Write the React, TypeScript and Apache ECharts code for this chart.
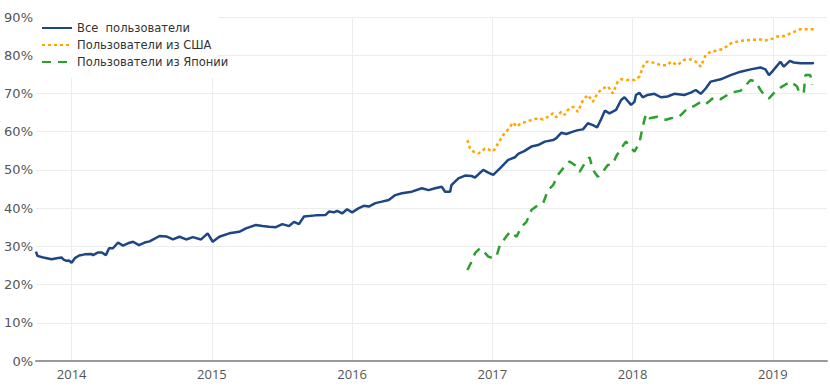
import React, { useEffect, useRef } from "react";
import * as echarts from "echarts";

const seriesNames = ["Все  пользователи", "Пользователи из США", "Пользователи из Японии"];

const allDates = [
  2013.746, 2013.756, 2013.798, 2013.858, 2013.893, 2013.929, 2013.94, 2013.964, 2013.981, 2014.0,
  2014.023, 2014.054, 2014.094, 2014.142, 2014.153, 2014.189, 2014.215, 2014.244, 2014.267, 2014.295,
  2014.331, 2014.366, 2014.402, 2014.438, 2014.48, 2014.521, 2014.556, 2014.592, 2014.627, 2014.675,
  2014.722, 2014.769, 2014.817, 2014.864, 2014.923, 2014.97, 2015.006, 2015.053, 2015.124, 2015.195,
  2015.243, 2015.314, 2015.361, 2015.408, 2015.456, 2015.503, 2015.55, 2015.586, 2015.621, 2015.657,
  2015.74, 2015.811, 2015.835, 2015.87, 2015.893, 2015.929, 2015.964, 2016.0, 2016.048, 2016.083,
  2016.119, 2016.166, 2016.213, 2016.261, 2016.308, 2016.355, 2016.426, 2016.497, 2016.545, 2016.592,
  2016.639, 2016.663, 2016.699, 2016.708, 2016.758, 2016.805, 2016.852, 2016.876, 2016.935, 2016.971,
  2017.006, 2017.054, 2017.113, 2017.161, 2017.184, 2017.227, 2017.278, 2017.326, 2017.374, 2017.433,
  2017.456, 2017.491, 2017.527, 2017.575, 2017.61, 2017.646, 2017.681, 2017.717, 2017.747, 2017.776,
  2017.802, 2017.835, 2017.882, 2017.918, 2017.942, 2017.989, 2018.013, 2018.024, 2018.048, 2018.072,
  2018.107, 2018.155, 2018.202, 2018.249, 2018.297, 2018.368, 2018.415, 2018.45, 2018.486, 2018.521,
  2018.557, 2018.628, 2018.699, 2018.77, 2018.841, 2018.912, 2018.947, 2018.972, 2018.995, 2019.054,
  2019.078, 2019.121, 2019.149, 2019.196, 2019.279, 2019.293,
];
const allValues = [
  28.6, 27.5, 27.1, 26.6, 26.9, 27.1, 26.6, 26.2, 26.3, 25.7,
  26.9, 27.6, 27.9, 28.0, 27.7, 28.4, 28.4, 27.7, 29.5, 29.5,
  31.0, 30.2, 30.8, 31.2, 30.3, 31.0, 31.3, 32.0, 32.7, 32.6,
  31.8, 32.5, 31.8, 32.4, 31.8, 33.4, 31.2, 32.5, 33.4, 33.8,
  34.7, 35.6, 35.3, 35.1, 35.0, 35.8, 35.3, 36.4, 35.8, 37.8,
  38.1, 38.2, 39.1, 38.9, 39.3, 38.6, 39.7, 38.9, 40.0, 40.6,
  40.4, 41.3, 41.7, 42.1, 43.4, 43.9, 44.3, 45.2, 44.7, 45.2,
  45.6, 44.3, 44.3, 46.0, 47.8, 48.5, 48.4, 48.0, 50.0, 49.3,
  48.7, 50.4, 52.6, 53.3, 54.2, 54.9, 56.1, 56.5, 57.4, 57.8,
  58.3, 59.7, 59.4, 60.0, 60.4, 60.6, 62.2, 61.7, 61.1, 63.3,
  65.5, 64.8, 65.7, 68.3, 69.0, 67.0, 67.8, 69.6, 70.2, 69.0,
  69.6, 69.9, 69.0, 69.2, 69.9, 69.6, 70.2, 70.9, 69.9, 71.3,
  73.1, 73.7, 74.8, 75.7, 76.3, 76.8, 76.3, 74.8, 75.7, 78.3,
  77.0, 78.5, 78.1, 77.9, 77.9, 78.0,
];

const usDates = [
  2016.822, 2016.841, 2016.864, 2016.9, 2016.923, 2016.947, 2016.971, 2016.994, 2017.013, 2017.042,
  2017.077, 2017.113, 2017.148, 2017.172, 2017.207, 2017.243, 2017.29, 2017.326, 2017.362, 2017.397,
  2017.433, 2017.456, 2017.491, 2017.516, 2017.539, 2017.575, 2017.61, 2017.646, 2017.681, 2017.717,
  2017.752, 2017.788, 2017.823, 2017.859, 2017.894, 2017.918, 2017.965, 2018.013, 2018.048, 2018.084,
  2018.107, 2018.155, 2018.202, 2018.249, 2018.273, 2018.32, 2018.368, 2018.415, 2018.45, 2018.486,
  2018.521, 2018.557, 2018.604, 2018.652, 2018.699, 2018.77, 2018.841, 2018.912, 2018.936, 2018.983,
  2019.002, 2019.031, 2019.078, 2019.125, 2019.196, 2019.267, 2019.293,
];
const usValues = [
  57.8, 55.6, 54.8, 54.3, 54.8, 55.6, 55.4, 54.8, 55.2, 57.0,
  59.1, 60.6, 62.4, 61.3, 62.2, 62.6, 63.2, 63.5, 63.2, 63.9,
  64.8, 63.8, 65.2, 64.4, 65.7, 66.5, 65.2, 68.3, 69.6, 67.8,
  70.2, 71.3, 71.9, 70.0, 73.1, 73.7, 73.5, 73.5, 74.4, 77.9,
  78.3, 78.0, 77.4, 77.4, 78.3, 77.4, 78.8, 78.9, 78.3, 77.0,
  80.1, 80.9, 81.2, 81.8, 83.1, 83.8, 84.0, 84.1, 83.8, 84.1,
  84.4, 84.9, 85.0, 85.7, 86.8, 86.8, 86.8,
];

const jpDates = [
  2016.822, 2016.848, 2016.876, 2016.912, 2016.947, 2016.971, 2017.006, 2017.03, 2017.054, 2017.09,
  2017.125, 2017.172, 2017.207, 2017.243, 2017.278, 2017.326, 2017.362, 2017.397, 2017.433, 2017.468,
  2017.504, 2017.551, 2017.587, 2017.622, 2017.658, 2017.693, 2017.717, 2017.752, 2017.788, 2017.823,
  2017.859, 2017.882, 2017.918, 2017.953, 2017.989, 2018.013, 2018.048, 2018.072, 2018.095, 2018.119,
  2018.178, 2018.237, 2018.273, 2018.332, 2018.391, 2018.439, 2018.486, 2018.521, 2018.581, 2018.628,
  2018.675, 2018.699, 2018.77, 2018.841, 2018.876, 2018.912, 2018.947, 2018.972, 2019.018, 2019.066,
  2019.125, 2019.173, 2019.185, 2019.22, 2019.232, 2019.267, 2019.279,
];
const jpValues = [
  23.8, 25.7, 28.2, 29.5, 28.3, 27.3, 26.9, 27.5, 30.4, 32.1,
  33.8, 32.5, 35.1, 36.4, 39.5, 40.8, 41.3, 44.7, 46.0, 48.7,
  50.4, 52.2, 51.3, 49.5, 51.7, 53.3, 50.0, 48.2, 49.5, 51.3,
  51.5, 53.5, 55.7, 57.4, 55.7, 54.8, 57.0, 61.3, 64.6, 63.5,
  63.9, 63.1, 63.5, 63.9, 66.1, 66.7, 67.8, 67.2, 69.0, 68.5,
  69.6, 70.2, 70.7, 73.5, 73.1, 70.9, 69.2, 68.7, 70.5, 71.8,
  73.1, 71.8, 70.5, 70.0, 74.8, 74.8, 72.2,
];

const xMin = 2013.746;
const xMax = 2019.386;
const yMin = 0;
const yMax = 90;
const yStep = 10;

const zip = (xs: number[], ys: number[]) => xs.map((x, i) => [x, ys[i]]);

export default function App() {
  const ref = useRef<HTMLDivElement>(null);

  useEffect(() => {
    document.body.style.margin = "0";
    if (!ref.current) return;
    const chart = echarts.init(ref.current, undefined, { renderer: "svg" });
    const gridColor = "#ececec";
    chart.setOption({
      animation: false,
      grid: { left: 36, right: 0, top: 17, bottom: 28, containLabel: false },
      legend: {
        orient: "vertical",
        left: 36,
        top: 17,
        padding: 5,
        itemWidth: 30,
        itemHeight: 14,
        itemGap: 5,
        z: 4,
        data: seriesNames,
        itemStyle: { opacity: 0 },
        textStyle: { fontFamily: "DejaVu Sans", fontSize: 11.5, color: "#333" },
      },
      graphic: {
        elements: [
          {
            type: "rect",
            z: 3,
            silent: true,
            shape: { x: 36, y: 8, width: 182, height: 70 },
            style: { fill: "#ffffff" },
          },
        ],
      },
      xAxis: {
        type: "value",
        min: xMin,
        max: xMax,
        splitNumber: 5,
        axisLine: { show: true, lineStyle: { color: "#999", width: 2 } },
        axisTick: { show: false },
        axisLabel: {
          margin: 6,
          fontFamily: "Open Sans",
          fontSize: 13,
          color: "#555",
          formatter: (v: number) => (Math.abs(v - Math.round(v)) < 1e-6 ? String(Math.round(v)) : ""),
        },
        splitLine: {
          show: true,
          lineStyle: {
            color: ["rgba(0,0,0,0)", gridColor, gridColor, gridColor, gridColor, gridColor, gridColor, "rgba(0,0,0,0)"],
            width: 1,
          },
        },
      },
      yAxis: {
        type: "value",
        min: yMin,
        max: yMax,
        interval: yStep,
        axisLine: { show: false },
        axisTick: { show: false },
        axisLabel: {
          margin: 3,
          fontFamily: "DejaVu Sans",
          fontSize: 13,
          color: "#555",
          formatter: (v: number) => `${v}%`,
        },
        splitLine: { show: true, lineStyle: { color: gridColor, width: 1 } },
      },
      series: [
        {
          name: seriesNames[0],
          type: "line",
          data: zip(allDates, allValues),
          showSymbol: false,
          symbol: "none",
          z: 2,
          lineStyle: { color: "#1d4684", width: 2.5 },
          itemStyle: { color: "#1d4684" },
        },
        {
          name: seriesNames[1],
          type: "line",
          data: zip(usDates, usValues),
          showSymbol: false,
          symbol: "none",
          z: 2,
          lineStyle: { color: "#ffa500", width: 2.5, type: [3, 3] },
          itemStyle: { color: "#ffa500" },
        },
        {
          name: seriesNames[2],
          type: "line",
          data: zip(jpDates, jpValues),
          showSymbol: false,
          symbol: "none",
          z: 2,
          lineStyle: { color: "#2ca02c", width: 2.5, type: [9, 7] },
          itemStyle: { color: "#2ca02c" },
        },
      ],
    });
    return () => chart.dispose();
  }, []);

  return <div ref={ref} style={{ width: 830, height: 389 }} />;
}
